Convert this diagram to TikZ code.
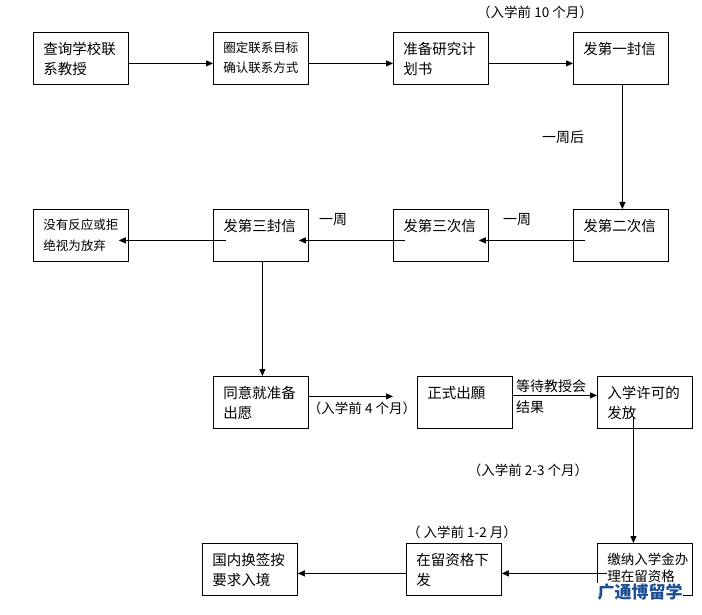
\documentclass[tikz,border=0pt]{standalone}
\usepackage{fontspec}
\setmainfont{Noto Sans CJK SC}
\usetikzlibrary{arrows.meta}
\definecolor{shuilan}{RGB}{28,78,150}
\newcommand{\dazi}{\fontsize{14.5pt}{20pt}\selectfont}
\newcommand{\xiaozi}{\fontsize{12.5pt}{20pt}\selectfont}
\newcommand{\wenzi}[1]{\parbox[c][40pt][t]{85pt}{\vspace*{4pt}\raggedright\leftskip=5pt #1}}
\begin{document}
\begin{tikzpicture}[x=1pt,y=-1pt]
\tikzset{kuang/.style={draw, line width=0.8pt, anchor=north west, inner sep=0pt, minimum width=95pt, minimum height=52pt, font=\dazi},
biaozhu/.style={inner sep=1pt, font=\fontsize{13.5pt}{21pt}\selectfont},
jiantou/.style={line width=0.8pt, -{Triangle[length=7pt,width=6pt]}}}
\useasboundingbox (0,0) rectangle (702,615);
\node[kuang] (K1) at (33,32) {\wenzi{查询学校联\\系教授}};
\node[kuang] (K2) at (213,32) {\xiaozi\wenzi{圈定联系目标\\确认联系方式}};
\node[kuang] (K3) at (393,32) {\wenzi{准备研究计\\划书}};
\node[kuang] (K4) at (573,32) {\wenzi{发第一封信}};
\node[kuang] (F1) at (33,209) {\xiaozi\wenzi{没有反应或拒\\绝视为放弃}};
\node[kuang] (F2) at (213,209) {\wenzi{发第三封信}};
\node[kuang] (F3) at (393,209) {\wenzi{发第三次信}};
\node[kuang] (F4) at (573,209) {\wenzi{发第二次信}};
\node[kuang] (T1) at (213,376) {\wenzi{同意就准备\\出愿}};
\node[kuang] (T2) at (417,376) {\wenzi{正式出願}};
\node[kuang] (T3) at (597,376) {\wenzi{入学许可的\\发放}};
\node[kuang] (G1) at (202,543) {\wenzi{国内换签按\\要求入境}};
\node[kuang] (G2) at (406,543) {\wenzi{在留资格下\\发}};
\node[kuang] (G3) at (597,543) {\fontsize{13.5pt}{17pt}\selectfont\wenzi{缴纳入学金办\\理在留资格}};
\draw[jiantou] ([yshift=-5pt]K1.east) -- ([yshift=-5pt]K2.west);
\draw[jiantou] ([yshift=-5pt]K2.east) -- ([yshift=-5pt]K3.west);
\draw[jiantou] ([yshift=-5pt]K3.east) -- ([yshift=-5pt]K4.west);
\draw[jiantou] ([xshift=1.5pt]K4.south) -- ([xshift=1.5pt]F4.north);
\draw[jiantou] ([xshift=12pt,yshift=-5pt]F4.west) -- ([xshift=-10pt,yshift=-5pt]F3.east);
\draw[jiantou] ([xshift=12pt,yshift=-5pt]F3.west) -- ([xshift=-10pt,yshift=-5pt]F2.east);
\draw[jiantou] ([xshift=13pt,yshift=-5pt]F2.west) -- ([xshift=-10pt,yshift=-5pt]F1.east);
\draw[jiantou] ([xshift=1.5pt]F2.south) -- ([xshift=1.5pt]T1.north);
\draw[jiantou] ([yshift=6pt]T1.east) -- ([xshift=-24pt,yshift=6pt]T2.west);
\draw[jiantou] ([yshift=7pt]T2.east) -- ([yshift=7pt]T3.west);
\draw[jiantou] ([xshift=-11.5pt,yshift=-15pt]T3.center) -- ([xshift=-11.5pt]G3.north);
\draw[jiantou] ([xshift=10pt,yshift=-4pt]G3.west) -- ([yshift=-4pt]G2.east);
\draw[jiantou] ([yshift=-4pt]G2.west) -- ([yshift=-4pt]G1.east);
\node[biaozhu] (B1) at (535,12) {（入学前 10 个月）};
\node[biaozhu, font=\fontsize{14pt}{20pt}\selectfont] (B2) at (563,137) {一周后};
\node[biaozhu, font=\fontsize{14pt}{20pt}\selectfont] (B3) at (333,220) {一周};
\node[biaozhu, font=\fontsize{14pt}{20pt}\selectfont] (B4) at (517,220) {一周};
\node[biaozhu] (B5) at (362,408) {（入学前 4 个月）};
\node[biaozhu, font=\fontsize{14pt}{21pt}\selectfont, anchor=west, align=left] (B6) at (515,397) {等待教授会\\结果};
\node[biaozhu] (B7) at (528,470) {（入学前 2-3 个月）};
\node[biaozhu] (B8) at (462,532) {（ 入学前 1-2 月）};
\node[fill=white, inner sep=0.5pt, text=shuilan, font=\fontsize{17pt}{17pt}\selectfont\bfseries] (SY) at (640,592) {广通博留学};
\end{tikzpicture}
\end{document}
